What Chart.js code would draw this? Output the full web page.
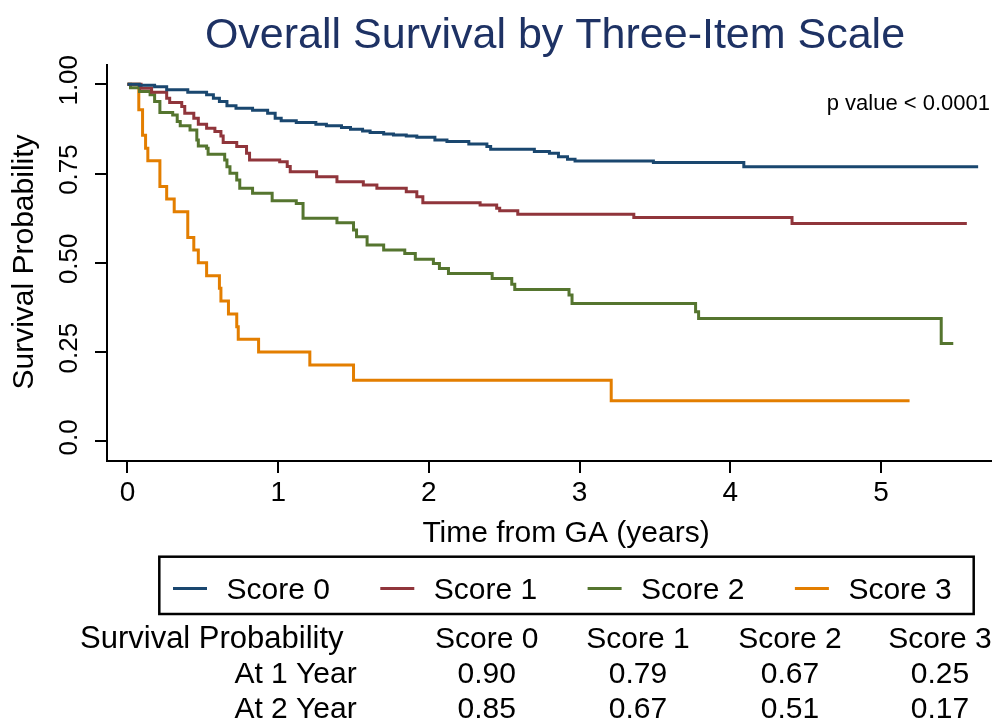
<!DOCTYPE html>
<html><head><meta charset="utf-8">
<script src="https://cdn.jsdelivr.net/npm/chart.js@4/dist/chart.umd.min.js"></script>
<style>
html,body{margin:0;padding:0;background:#fff;overflow:hidden;width:992px;height:721px;}
canvas{display:block;}
</style></head><body>
<canvas id="c" width="992" height="721" style="width:992px;height:721px"></canvas>
<script>
// ---------------- data ----------------
const chartTitle = 'Overall Survival by Three-Item Scale';
const pValueText = 'p value < 0.0001';
const xAxisTitle = 'Time from GA (years)';
const yAxisTitle = 'Survival Probability';

const seriesNames  = ['Score 0', 'Score 1', 'Score 2', 'Score 3'];
const seriesColors = ['#1a476f', '#90353b', '#55752f', '#e37e00'];

const score0Times = [0, 0.08, 0.18, 0.26, 0.40, 0.525, 0.57, 0.61, 0.66, 0.72, 0.83, 0.93, 0.98, 1.02, 1.12, 1.25, 1.32, 1.42, 1.48, 1.56, 1.61, 1.70, 1.765, 1.85, 1.92, 2.04, 2.12, 2.265, 2.385, 2.41, 2.70, 2.80, 2.86, 2.92, 2.97, 3.49, 4.09, 5.645];
const score0Surv  = [1.0, 0.997, 0.993, 0.985, 0.978, 0.971, 0.961, 0.952, 0.940, 0.933, 0.927, 0.919, 0.905, 0.898, 0.893, 0.888, 0.884, 0.879, 0.874, 0.869, 0.865, 0.861, 0.858, 0.855, 0.852, 0.844, 0.840, 0.833, 0.826, 0.818, 0.812, 0.807, 0.797, 0.790, 0.785, 0.781, 0.769, 0.769];

const score1Times = [0, 0.09, 0.16, 0.26, 0.28, 0.36, 0.38, 0.44, 0.47, 0.525, 0.58, 0.62, 0.635, 0.725, 0.79, 0.81, 1.01, 1.06, 1.08, 1.255, 1.39, 1.565, 1.655, 1.85, 1.92, 1.96, 2.34, 2.45, 2.47, 2.59, 3.36, 4.41, 5.57];
const score1Surv  = [1.0, 0.989, 0.978, 0.961, 0.949, 0.938, 0.919, 0.905, 0.888, 0.877, 0.868, 0.855, 0.837, 0.826, 0.807, 0.788, 0.783, 0.770, 0.755, 0.741, 0.727, 0.718, 0.709, 0.699, 0.685, 0.668, 0.662, 0.653, 0.646, 0.636, 0.627, 0.610, 0.610];

const score2Times = [0, 0.02, 0.08, 0.15, 0.18, 0.215, 0.30, 0.33, 0.35, 0.415, 0.46, 0.47, 0.525, 0.535, 0.645, 0.66, 0.68, 0.725, 0.745, 0.83, 0.96, 1.12, 1.165, 1.39, 1.50, 1.52, 1.59, 1.70, 1.84, 1.91, 2.03, 2.07, 2.13, 2.42, 2.55, 2.57, 2.93, 2.95, 3.77, 3.79, 5.40, 5.48];
const score2Surv  = [1.0, 0.990, 0.980, 0.971, 0.952, 0.921, 0.914, 0.896, 0.884, 0.872, 0.844, 0.827, 0.821, 0.804, 0.788, 0.769, 0.751, 0.732, 0.709, 0.695, 0.674, 0.666, 0.625, 0.612, 0.592, 0.573, 0.550, 0.536, 0.526, 0.510, 0.498, 0.484, 0.470, 0.456, 0.440, 0.425, 0.410, 0.386, 0.363, 0.344, 0.274, 0.274];

const score3Times = [0, 0.075, 0.10, 0.12, 0.135, 0.215, 0.26, 0.31, 0.40, 0.44, 0.47, 0.525, 0.61, 0.62, 0.67, 0.725, 0.735, 0.87, 1.21, 1.50, 3.21, 5.19];
const score3Surv  = [1.0, 0.929, 0.857, 0.821, 0.786, 0.714, 0.679, 0.643, 0.571, 0.536, 0.500, 0.464, 0.429, 0.393, 0.357, 0.321, 0.286, 0.250, 0.214, 0.171, 0.114, 0.114];

const xTickValues = [0, 1, 2, 3, 4, 5];
const xTickLabels = ['0', '1', '2', '3', '4', '5'];
const yTickValues = [0, 0.25, 0.5, 0.75, 1];
const yTickLabels = ['0.0', '0.25', '0.50', '0.75', '1.00'];

const tableHeader    = 'Survival Probability';
const tableRowLabels = ['At 1 Year', 'At 2 Year'];
const at1YearValues  = ['0.90', '0.79', '0.67', '0.25'];
const at2YearValues  = ['0.85', '0.67', '0.51', '0.17'];

// ---------------- chart ----------------
const F = '"Liberation Sans", Arial, Helvetica, sans-serif';
const seriesTimes = [score0Times, score1Times, score2Times, score3Times];
const seriesSurv  = [score0Surv, score1Surv, score2Surv, score3Surv];

const datasets = seriesNames.map((name, k) => ({
  label: name,
  data: seriesTimes[k].map((t, i) => ({ x: t, y: seriesSurv[k][i] })),
  borderColor: seriesColors[k],
  backgroundColor: seriesColors[k],
  borderWidth: 3,
  stepped: true,
  pointRadius: 0,
  fill: false,
  tension: 0
}));

const decor = {
  id: 'decor',
  afterDraw(chart) {
    const ctx = chart.ctx;
    ctx.save();
    // title
    ctx.fillStyle = '#1e3264';
    ctx.font = `43px ${F}`;
    ctx.textAlign = 'center';
    ctx.textBaseline = 'alphabetic';
    ctx.fillText(chartTitle, 555, 48);
    // p value
    ctx.fillStyle = '#000';
    ctx.font = `22px ${F}`;
    ctx.textAlign = 'right';
    ctx.fillText(pValueText, 990, 110);
    // y tick labels (rotated)
    const ys = chart.scales.y;
    ctx.font = `26px ${F}`;
    ctx.textAlign = 'center';
    ctx.textBaseline = 'middle';
    yTickValues.forEach((v, i) => {
      const py = ys.getPixelForValue(v) - 4;
      ctx.save(); ctx.translate(69.5, py); ctx.rotate(-Math.PI / 2);
      ctx.fillText(yTickLabels[i], 0, 0); ctx.restore();
    });
    // y axis title
    ctx.font = `30px ${F}`;
    ctx.save(); ctx.translate(25, 262); ctx.rotate(-Math.PI / 2);
    ctx.fillText(yAxisTitle, 0, 0); ctx.restore();
    // x axis title
    ctx.textBaseline = 'alphabetic';
    ctx.fillText(xAxisTitle, 566, 541.5);
    // legend box
    ctx.strokeStyle = '#000';
    ctx.lineWidth = 2.5;
    ctx.strokeRect(159.3, 556.7, 814.4, 57.3);
    ctx.textAlign = 'left';
    seriesNames.forEach((name, k) => {
      const x0 = 173 + k * 207.3;
      ctx.strokeStyle = seriesColors[k];
      ctx.lineWidth = 3;
      ctx.beginPath(); ctx.moveTo(x0, 588.5); ctx.lineTo(x0 + 34, 588.5); ctx.stroke();
      ctx.fillStyle = '#000';
      ctx.fillText(name, x0 + 53.5, 598.5);
    });
    // table
    const colX = [486.7, 638, 790, 940];
    ctx.font = `31px ${F}`;
    ctx.fillText(tableHeader, 80, 647.5);
    ctx.font = `30px ${F}`;
    ctx.textAlign = 'center';
    seriesNames.forEach((name, k) => ctx.fillText(name, colX[k], 647.5));
    const rows = [at1YearValues, at2YearValues];
    const rowY = [683.3, 718];
    rows.forEach((vals, r) => {
      ctx.textAlign = 'right';
      ctx.fillText(tableRowLabels[r], 356.7, rowY[r]);
      ctx.textAlign = 'center';
      vals.forEach((v, k) => ctx.fillText(v, colX[k], rowY[r]));
    });
    ctx.restore();
  }
};

new Chart(document.getElementById('c'), {
  type: 'line',
  data: { datasets },
  options: {
    responsive: false,
    animation: false,
    devicePixelRatio: 1,
    layout: { padding: { top: 65, bottom: 200, left: 0, right: 0 } },
    plugins: { legend: { display: false }, title: { display: false }, tooltip: { enabled: false } },
    scales: {
      x: {
        type: 'linear', min: -0.136, max: 5.737,
        afterBuildTicks: s => { s.ticks = xTickValues.map(v => ({ value: v })); },
        afterFit: s => { s.height = 60; },
        ticks: { color: '#000', font: { family: F, size: 28 }, padding: 3, maxRotation: 0, autoSkip: false,
                 callback: (v, i) => xTickLabels[i] },
        grid: { drawOnChartArea: false, drawTicks: true, tickLength: 12, color: '#000', lineWidth: 2 },
        border: { display: true, color: '#000', width: 2 }
      },
      y: {
        type: 'linear', min: -0.055, max: 1.054,
        afterBuildTicks: s => { s.ticks = yTickValues.map(v => ({ value: v })); },
        afterFit: s => { s.width = 107; },
        ticks: { display: false },
        grid: { drawOnChartArea: false, drawTicks: true, tickLength: 12, color: '#000', lineWidth: 2 },
        border: { display: true, color: '#000', width: 2 }
      }
    }
  },
  plugins: [decor]
});
</script>
</body></html>
